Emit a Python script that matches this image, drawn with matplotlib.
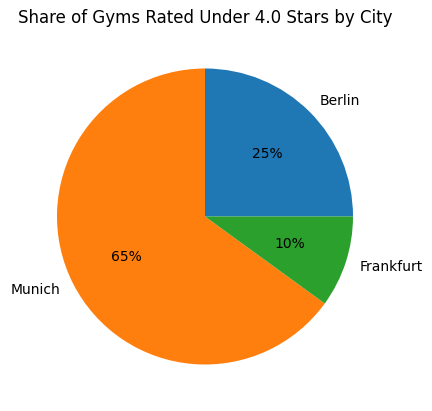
import matplotlib
matplotlib.use("Agg")
import matplotlib.pyplot as plt

cities = ["Berlin", "Munich", "Frankfurt"]
shares = [25, 65, 10]

fig = plt.figure(figsize=(4.32, 4.11), dpi=100)
# axes placed so the pie sits where it does in the reference
ax = fig.add_axes([20 / 432, 9.5 / 411, 370 / 432, 370 / 411])
ax.pie(shares, labels=cities, autopct='%1.0f%%')
ax.set_title("Share of Gyms Rated Under 4.0 Stars by City")

fig.savefig("out.png", dpi=100)
